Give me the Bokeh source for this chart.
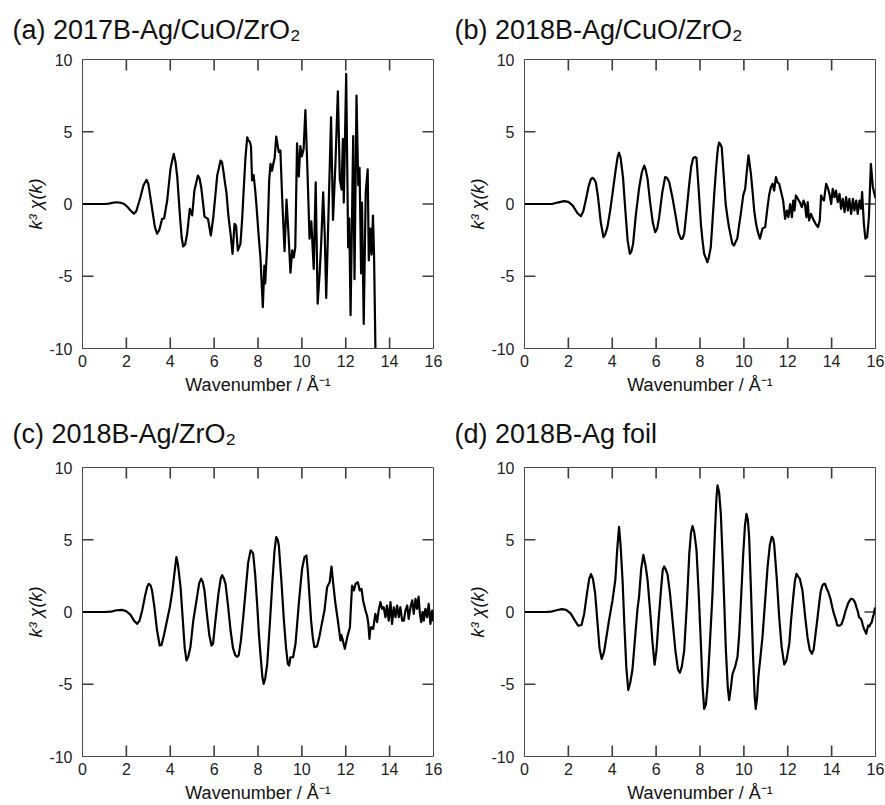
from bokeh.plotting import figure
from bokeh.layouts import column, row
from bokeh.models import FixedTicker, Range1d
from bokeh.embed import file_html
from bokeh.resources import INLINE

FONT = "Liberation Sans"
EDGE = "#4a4a4a"
TICK_COLOR = "#3c3c3c"
FRAME_W = 351
FRAME_H = 289
TICK_LEN = 11

x_min, x_max = 0, 16
y_min, y_max = -10, 10
x_ticks = [0, 2, 4, 6, 8, 10, 12, 14, 16]
y_ticks = [-10, -5, 0, 5, 10]
y_tick_labels = {-10: "-10", -5: "-5", 0: "0", 5: "5", 10: "10"}
x_label = "Wavenumber / Å⁻¹"
y_label = "k³ χ(k)"

title_a = "(a) 2017B-Ag/CuO/ZrO₂"
title_b = "(b) 2018B-Ag/CuO/ZrO₂"
title_c = "(c) 2018B-Ag/ZrO₂"
title_d = "(d) 2018B-Ag foil"

# ---- (a) 2017B-Ag/CuO/ZrO2 ----
k_a = [0.0, 0.5, 1.0, 1.2, 1.5, 1.7, 1.9, 2.05, 2.19, 2.34,
       2.45, 2.55, 2.64, 2.78, 2.92, 3.0, 3.07, 3.2, 3.3, 3.4,
       3.5, 3.63, 3.72, 3.86, 4.01, 4.1, 4.16, 4.24, 4.32, 4.45,
       4.52, 4.59, 4.68, 4.77, 4.89, 5.0, 5.1, 5.26, 5.33, 5.41,
       5.5, 5.56, 5.72, 5.85, 5.96, 6.05, 6.14, 6.22, 6.29, 6.36,
       6.43, 6.49, 6.56, 6.65, 6.75, 6.84, 6.93, 7.0, 7.08, 7.2,
       7.28, 7.35, 7.43, 7.51, 7.56, 7.63, 7.68, 7.73, 7.8, 7.87,
       7.93, 8.02, 8.11, 8.22, 8.29, 8.33, 8.42, 8.51, 8.57, 8.64,
       8.7, 8.76, 8.83, 8.9, 8.95, 9.02, 9.1, 9.21, 9.3, 9.38,
       9.48, 9.56, 9.63, 9.7, 9.78, 9.86, 9.93, 10.0, 10.08, 10.16,
       10.25, 10.35, 10.43, 10.54, 10.63, 10.72, 10.81, 10.88, 10.97, 11.04,
       11.11, 11.23, 11.33, 11.42, 11.53, 11.64, 11.73, 11.81, 11.87, 11.91,
       12.02, 12.11, 12.16, 12.22, 12.28, 12.34, 12.4, 12.49, 12.57, 12.63,
       12.7, 12.74, 12.82, 12.91, 13.0, 13.05, 13.12, 13.18, 13.24, 13.29,
       13.36]
chi_a = [0.0, 0.0, 0.0, 0.03, 0.12, 0.1, 0.0, -0.2, -0.45, -0.68,
         -0.5, 0.0, 0.47, 1.3, 1.67, 1.4, 0.7, -0.6, -1.6, -2.06,
         -1.8, -1.03, -1.0, 0.24, 2.43, 3.1, 3.47, 2.9, 1.86, -1.0,
         -2.3, -2.94, -2.8, -2.06, -0.33, -0.79, 0.93, 1.97, 1.8, 1.16,
         0.0, -0.87, -1.03, -2.18, -0.95, 0.5, 1.97, 2.5, 3.0, 2.9,
         2.2, 1.51, 0.82, -0.8, -2.06, -3.45, -1.37, -1.5, -3.22, -2.76,
         -1.0, 1.05, 3.24, 4.62, 4.4, 4.3, 4.0, 1.63, 2.0, 1.0,
         -0.1, -2.0, -3.68, -7.14, -4.26, -5.5, -2.76, 1.63, 2.78, 2.3,
         2.8, 3.2, 4.67, 4.0, 3.6, 3.7, 0.5, -3.27, 0.3, -1.8,
         -4.75, -3.2, -3.7, -3.0, 4.2, 1.9, 4.0, 3.3, 3.8, 6.5,
         2.5, -2.4, -1.2, -4.5, 1.5, -6.9, -4.8, -2.73, 0.8, -2.0,
         -6.5, 0.3, 6.0, -1.1, 2.8, 7.8, 1.7, 1.0, 4.5, 0.1,
         9.0, -3.0, -1.0, -7.7, -1.5, 4.7, -5.2, 7.5, 1.3, 2.5,
         -4.8, 0.1, -8.3, 0.8, 2.4, -3.9, -1.7, -3.5, -0.8, -3.5,
         -10.8]

# ---- (b) 2018B-Ag/CuO/ZrO2 ----
k_b = [0.0, 0.5, 1.0, 1.25, 1.5, 1.8, 2.0, 2.19, 2.4, 2.57,
       2.68, 2.79, 2.92, 3.02, 3.1, 3.18, 3.25, 3.35, 3.48, 3.6,
       3.68, 3.78, 3.9, 4.01, 4.15, 4.25, 4.31, 4.38, 4.49, 4.6,
       4.7, 4.8, 4.87, 4.95, 5.08, 5.23, 5.35, 5.46, 5.52, 5.61,
       5.72, 5.85, 5.96, 6.05, 6.14, 6.28, 6.41, 6.5, 6.6, 6.75,
       6.9, 7.02, 7.13, 7.2, 7.28, 7.4, 7.51, 7.6, 7.69, 7.78,
       7.84, 7.94, 8.04, 8.12, 8.19, 8.28, 8.34, 8.4, 8.49, 8.57,
       8.65, 8.75, 8.82, 8.87, 8.92, 8.99, 9.08, 9.17, 9.25, 9.32,
       9.44, 9.48, 9.55, 9.63, 9.7, 9.78, 9.86, 9.97, 10.06, 10.13,
       10.21, 10.26, 10.32, 10.4, 10.47, 10.55, 10.62, 10.73, 10.85, 10.97,
       11.08, 11.15, 11.23, 11.31, 11.38, 11.46, 11.53, 11.61, 11.7, 11.79,
       11.88, 11.96, 12.03, 12.11, 12.19, 12.25, 12.31, 12.37, 12.46, 12.55,
       12.64, 12.72, 12.78, 12.85, 12.91, 12.97, 13.06, 13.15, 13.27, 13.38,
       13.46, 13.52, 13.58, 13.65, 13.75, 13.84, 13.9, 13.98, 14.05, 14.13,
       14.2, 14.28, 14.36, 14.43, 14.51, 14.59, 14.66, 14.74, 14.81, 14.89,
       14.97, 15.04, 15.12, 15.19, 15.27, 15.34, 15.39, 15.47, 15.54, 15.62,
       15.7, 15.79, 15.88, 15.97, 16.0]
chi_b = [0.0, 0.0, 0.0, 0.0, 0.1, 0.2, 0.15, -0.1, -0.6, -0.85,
         -0.5, 0.24, 1.2, 1.7, 1.81, 1.7, 1.51, 0.5, -1.3, -2.3,
         -2.1, -1.6, -0.5, 0.7, 2.3, 3.3, 3.55, 3.2, 1.86, -0.5,
         -2.5, -3.45, -3.3, -2.76, -0.7, 1.16, 2.2, 2.66, 2.4, 1.74,
         0.2, -1.3, -1.95, -1.7, -0.91, 0.8, 1.86, 1.8, 1.51, 0.4,
         -0.91, -2.0, -2.41, -2.4, -2.07, -0.3, 1.4, 2.6, 3.19, 3.25,
         3.19, 1.0, -1.37, -2.6, -3.45, -3.8, -4.03, -3.7, -3.0, -1.2,
         0.7, 2.8, 3.9, 4.25, 4.15, 3.93, 2.0, 0.0, -0.9, -1.6,
         -2.5, -2.76, -2.87, -2.6, -2.4, -1.5, -0.68, 0.6, 1.05, 2.2,
         3.36, 2.8, 2.1, 0.8, -0.45, -1.3, -1.84, -2.4, -1.7, -1.6,
         -0.2, 0.6, 1.16, 1.4, 0.93, 1.86, 1.5, 1.4, 0.82, 0.24,
         -1.03, -0.45, -0.91, 0.0, -0.91, 0.24, -0.45, 0.59, 0.36, 0.13,
         -0.22, 0.24, 0.0, -0.91, 0.13, -1.14, -0.68, -1.03, -1.37, -1.6,
         -1.14, 0.59, 0.36, 0.24, 1.4, 1.05, 0.7, 0.0, 1.05, 0.47,
         0.93, 0.13, 0.7, -0.33, 0.36, -0.56, 0.47, -0.45, 0.36, -0.68,
         0.36, -0.45, 0.24, -0.68, 0.24, -0.33, 0.82, -1.37, -2.4, -2.3,
         -0.91, 2.78, 1.16, 0.59, 0.4]

# ---- (c) 2018B-Ag/ZrO2 ----
k_c = [0.0, 0.5, 1.0, 1.3, 1.55, 1.8, 2.0, 2.19, 2.35, 2.49,
       2.6, 2.72, 2.85, 2.95, 3.02, 3.1, 3.17, 3.28, 3.4, 3.52,
       3.6, 3.71, 3.85, 3.98, 4.1, 4.2, 4.28, 4.35, 4.47, 4.57,
       4.66, 4.74, 4.82, 4.92, 5.05, 5.22, 5.32, 5.41, 5.48, 5.56,
       5.66, 5.78, 5.88, 5.95, 6.06, 6.2, 6.3, 6.37, 6.45, 6.52,
       6.63, 6.75, 6.86, 6.97, 7.05, 7.12, 7.22, 7.33, 7.43, 7.55,
       7.66, 7.72, 7.78, 7.87, 7.96, 8.04, 8.11, 8.2, 8.26, 8.33,
       8.42, 8.54, 8.65, 8.75, 8.83, 8.9, 8.95, 9.06, 9.18, 9.28,
       9.36, 9.42, 9.48, 9.6, 9.71, 9.86, 9.94, 10.01, 10.12, 10.21,
       10.27, 10.35, 10.42, 10.5, 10.57, 10.69, 10.8, 10.88, 11.03, 11.15,
       11.27, 11.35, 11.43, 11.53, 11.64, 11.76, 11.8, 11.85, 11.96, 12.07,
       12.19, 12.24, 12.29, 12.37, 12.45, 12.55, 12.64, 12.72, 12.79, 12.9,
       12.97, 13.03, 13.08, 13.12, 13.16, 13.25, 13.35, 13.43, 13.5, 13.58,
       13.66, 13.73, 13.81, 13.88, 13.96, 14.04, 14.11, 14.19, 14.27, 14.34,
       14.42, 14.49, 14.57, 14.65, 14.72, 14.8, 14.87, 14.95, 15.03, 15.1,
       15.18, 15.25, 15.32, 15.38, 15.44, 15.5, 15.56, 15.63, 15.71, 15.78,
       15.86, 15.94, 15.98, 16.0]
chi_c = [0.0, 0.0, 0.0, 0.02, 0.12, 0.15, 0.05, -0.2, -0.6, -0.82,
         -0.6, 0.1, 1.1, 1.75, 1.95, 1.85, 1.49, 0.3, -1.3, -2.32,
         -2.3, -1.63, -0.6, 0.33, 1.5, 2.8, 3.8, 3.3, 1.72, -0.5,
         -2.5, -3.35, -3.1, -2.43, -0.6, 1.03, 2.0, 2.3, 2.1, 1.49,
         0.0, -1.6, -2.32, -2.2, -0.59, 1.3, 2.3, 2.55, 2.3, 1.95,
         0.5, -1.28, -2.5, -3.0, -3.1, -3.0, -2.0, -0.3, 1.37, 3.4,
         4.26, 4.2, 4.03, 2.6, 0.57, -1.5, -2.9, -4.5, -4.97, -4.6,
         -3.59, -0.8, 1.95, 4.2, 5.18, 5.0, 4.6, 2.3, -0.59, -2.5,
         -3.59, -3.7, -3.13, -3.13, -2.2, 0.57, 1.9, 2.99, 3.8, 3.91,
         2.87, 1.0, -0.59, -1.8, -2.43, -2.39, -1.7, -1.05, 0.1, 1.72,
         2.07, 3.15, 1.95, 0.57, -0.59, -1.97, -1.6, -1.86, -2.55, -1.74,
         -1.05, 0.5, 1.83, 1.49, 1.95, 2.07, 1.49, 1.6, 0.8, 0.1,
         -0.24, -0.8, -1.86, -1.2, -1.05, -1.17, -0.13, -0.7, 0.1, 0.68,
         0.22, 0.33, -0.36, 0.45, -0.59, 0.68, -0.82, 0.33, -0.36, 0.45,
         -0.36, 0.33, -0.59, -0.59, 0.1, 0.45, -0.47, 0.33, 0.8, -0.13,
         0.91, 0.22, 1.07, -0.13, -0.7, 0.0, -0.59, 0.22, -0.36, 0.57,
         -0.82, 0.1, -0.59, 0.0]

# ---- (d) 2018B-Ag foil ----
k_d = [0.0, 0.5, 1.0, 1.2, 1.45, 1.7, 1.9, 2.1, 2.3, 2.45,
       2.6, 2.72, 2.85, 2.95, 3.03, 3.12, 3.22, 3.32, 3.42, 3.52,
       3.62, 3.71, 3.85, 4.01, 4.14, 4.22, 4.31, 4.38, 4.47, 4.55,
       4.64, 4.73, 4.82, 4.92, 5.05, 5.15, 5.22, 5.32, 5.42, 5.52,
       5.61, 5.72, 5.83, 5.93, 6.02, 6.11, 6.22, 6.3, 6.37, 6.45,
       6.52, 6.63, 6.75, 6.88, 7.0, 7.08, 7.17, 7.28, 7.4, 7.51,
       7.59, 7.66, 7.74, 7.84, 7.95, 8.04, 8.12, 8.19, 8.27, 8.34,
       8.45, 8.57, 8.68, 8.75, 8.8, 8.87, 8.95, 9.05, 9.18, 9.27,
       9.33, 9.41, 9.48, 9.6, 9.71, 9.79, 9.86, 9.97, 10.05, 10.12,
       10.18, 10.24, 10.33, 10.42, 10.49, 10.54, 10.6, 10.66, 10.75, 10.85,
       10.97, 11.08, 11.18, 11.27, 11.33, 11.38, 11.5, 11.61, 11.72, 11.84,
       11.94, 12.07, 12.15, 12.25, 12.33, 12.4, 12.48, 12.55, 12.67, 12.8,
       12.9, 13.0, 13.1, 13.18, 13.25, 13.35, 13.43, 13.5, 13.58, 13.65,
       13.7, 13.78, 13.85, 13.95, 14.03, 14.1, 14.18, 14.26, 14.36, 14.46,
       14.55, 14.64, 14.75, 14.87, 14.95, 15.02, 15.08, 15.13, 15.2, 15.25,
       15.32, 15.37, 15.42, 15.47, 15.52, 15.58, 15.62, 15.67, 15.72, 15.78,
       15.83, 15.88, 15.93, 15.97, 16.0]
chi_d = [0.0, 0.0, 0.0, 0.02, 0.12, 0.2, 0.15, -0.1, -0.6, -0.95,
         -0.9, -0.13, 1.3, 2.3, 2.62, 2.3, 1.3, -0.6, -2.5, -3.25,
         -2.8, -1.97, -0.6, 0.8, 2.2, 4.2, 5.9, 4.6, 2.2, -0.8,
         -3.8, -5.4, -4.9, -4.0, -1.6, 0.2, 1.03, 3.0, 3.95, 3.2,
         2.2, 0.2, -2.0, -3.65, -2.6, -0.6, 1.5, 2.9, 3.15, 2.9,
         2.6, 1.3, -0.6, -2.7, -4.0, -4.2, -3.8, -2.66, 0.5, 4.0,
         5.5, 5.95, 5.5, 4.3, 1.0, -2.2, -5.2, -6.7, -6.4, -5.2,
         -2.2, 1.26, 5.5, 7.9, 8.76, 8.3, 6.8, 3.0, -2.66, -5.3,
         -6.1, -5.2, -4.3, -3.8, -3.1, -1.5, 0.57, 4.0, 6.0, 6.79,
         6.4, 5.2, 1.2, -3.1, -5.8, -6.7, -6.0, -4.5, -3.2, -1.7,
         0.8, 3.1, 4.6, 5.2, 5.1, 4.7, 2.3, -0.36, -2.4, -3.63,
         -3.35, -2.2, -0.6, 1.03, 2.2, 2.64, 2.45, 2.3, 1.49, -0.4,
         -1.74, -2.6, -2.89, -2.6, -1.74, -0.5, 0.57, 1.4, 1.84, 1.95,
         1.95, 1.6, 1.38, 0.9, 0.33, -0.1, -0.47, -0.93, -0.95, -0.82,
         -0.4, 0.1, 0.6, 0.91, 0.9, 0.8, 0.6, 0.33, 0.0, -0.36,
         -0.45, -0.59, -0.9, -1.16, -1.3, -1.51, -1.2, -0.93, -1.0, -0.82,
         -0.7, -0.36, -0.1, 0.22, 0.3]


def add_frame_ticks(p):
    """Inward tick marks on all four sides of the frame, at the tick values."""
    dx = TICK_LEN * (x_max - x_min) / FRAME_W
    dy = TICK_LEN * (y_max - y_min) / FRAME_H
    xt = [t for t in x_ticks if x_min < t < x_max]
    yt = [t for t in y_ticks if y_min < t < y_max]
    nx, ny = len(xt), len(yt)
    kw = dict(line_color=TICK_COLOR, line_width=1.6)
    p.segment(x0=xt, y0=[y_min] * nx, x1=xt, y1=[y_min + dy] * nx, **kw)
    p.segment(x0=xt, y0=[y_max] * nx, x1=xt, y1=[y_max - dy] * nx, **kw)
    p.segment(x0=[x_min] * ny, y0=yt, x1=[x_min + dx] * ny, y1=yt, **kw)
    p.segment(x0=[x_max] * ny, y0=yt, x1=[x_max - dx] * ny, y1=yt, **kw)


def make_panel(k, chi, title, b_left, b_right, b_top, b_bottom, title_standoff):
    p = figure(frame_width=FRAME_W, frame_height=FRAME_H,
               x_range=Range1d(x_min, x_max), y_range=Range1d(y_min, y_max),
               output_backend="svg", toolbar_location=None,
               min_border_left=b_left, min_border_right=b_right,
               min_border_top=b_top, min_border_bottom=b_bottom,
               background_fill_color="white", border_fill_color="white")
    p.outline_line_color = EDGE
    p.outline_line_width = 1
    p.xgrid.visible = False
    p.ygrid.visible = False

    p.title.text = title
    p.title.align = "left"
    p.title.vertical_align = "top"
    p.title.offset = -70
    p.title.standoff = title_standoff
    p.title.text_font = FONT
    p.title.text_font_size = "27px"
    p.title.text_font_style = "normal"
    p.title.text_color = "#111111"

    xa = p.below[0]
    ya = p.left[0]
    xa.ticker = FixedTicker(ticks=x_ticks)
    ya.ticker = FixedTicker(ticks=y_ticks)
    ya.major_label_overrides = y_tick_labels
    for ax in (xa, ya):
        ax.major_tick_in = 0
        ax.major_tick_out = 0
        ax.minor_tick_in = 0
        ax.minor_tick_out = 0
        ax.axis_line_color = EDGE
        ax.major_label_text_font = FONT
        ax.major_label_text_font_size = "16px"
        ax.major_label_text_color = "#222222"
        ax.axis_label_text_font = FONT
        ax.axis_label_text_font_size = "18px"
        ax.axis_label_text_color = "#111111"
    xa.axis_label = x_label
    xa.axis_label_text_font_style = "normal"
    xa.major_label_standoff = 6
    xa.axis_label_standoff = 5
    ya.axis_label = y_label
    ya.axis_label_text_font_style = "italic"
    ya.major_label_standoff = 10
    ya.axis_label_standoff = 0

    add_frame_ticks(p)
    p.line(k, chi, line_color="black", line_width=2.2, line_join="round")
    return p


pa = make_panel(k_a, chi_a, title_a, 82, 9, 59, 52, 25)
pb = make_panel(k_b, chi_b, title_b, 82, 10, 59, 52, 25)
pc = make_panel(k_c, chi_c, title_c, 82, 9, 67, 49, 33)
pd = make_panel(k_d, chi_d, title_d, 82, 10, 67, 49, 33)

layout = column(row(pa, pb), row(pc, pd))

open("out.html", "w").write(file_html(layout, INLINE))
